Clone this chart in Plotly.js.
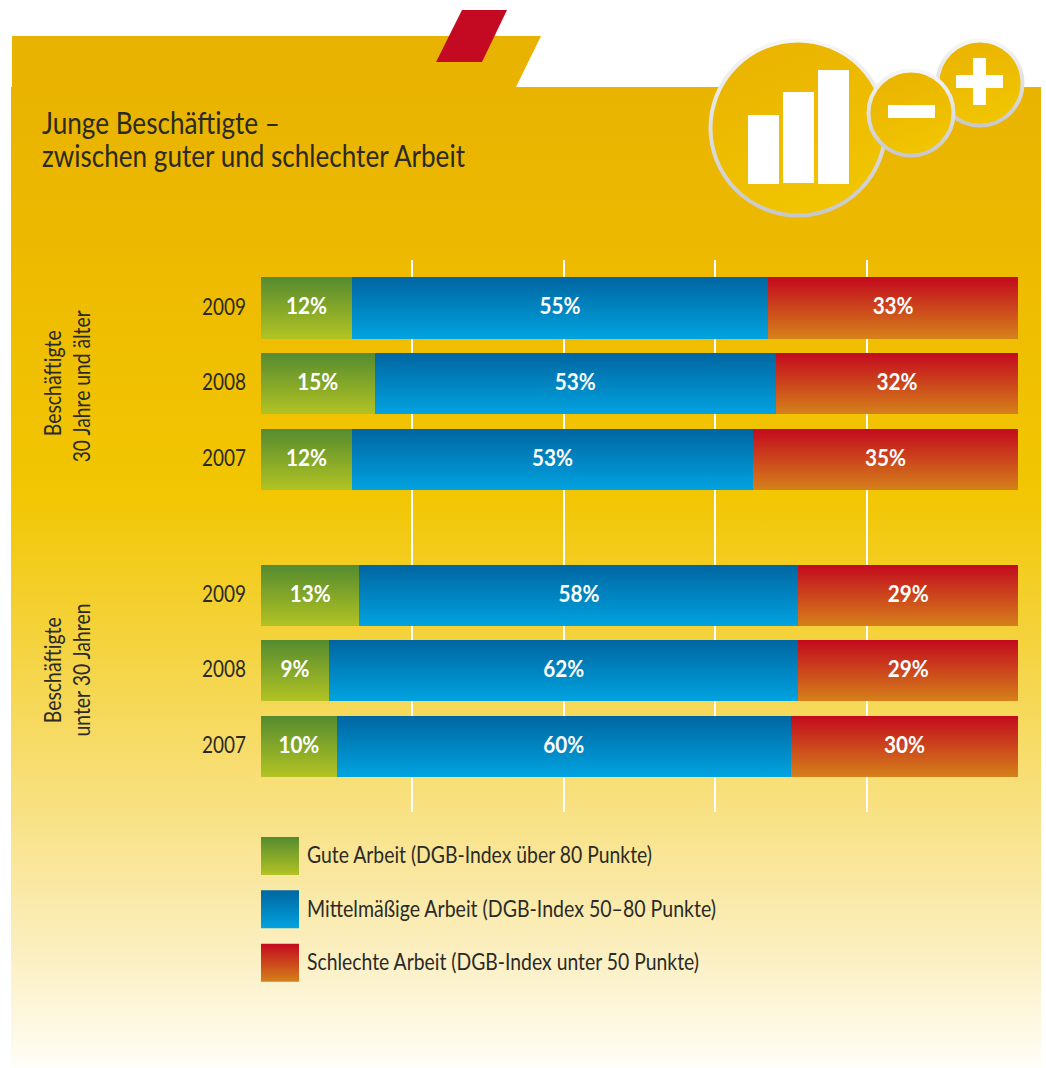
<!DOCTYPE html>
<html lang="de">
<head>
<meta charset="utf-8">
<title>Junge Beschäftigte</title>
<script src="https://cdn.plot.ly/plotly-3.0.1.min.js"></script>
<style>
html,body{margin:0;padding:0;background:#fff;width:1046px;height:1068px;overflow:hidden}
#bg{position:absolute;left:0;top:0}
#chart{position:absolute;left:0;top:0;width:1046px;height:1068px}
</style>
</head>
<body>
<svg id="bg" width="1046" height="1068" viewBox="0 0 1046 1068" xmlns="http://www.w3.org/2000/svg">
<defs>
<linearGradient id="gBg" gradientUnits="userSpaceOnUse" x1="0" y1="36" x2="0" y2="1068">
<stop offset="0" stop-color="#E8B200"/>
<stop offset="0.2" stop-color="#EDB900"/>
<stop offset="0.44" stop-color="#F2C602"/>
<stop offset="0.52" stop-color="#F3CD22"/>
<stop offset="0.74" stop-color="#F8E07E"/>
<stop offset="0.9" stop-color="#FBF0C6"/>
<stop offset="1" stop-color="#FFFEF8"/>
</linearGradient>
<linearGradient id="gCircle" x1="0.3" y1="0" x2="0.7" y2="1">
<stop offset="0" stop-color="#EAB300"/><stop offset="1" stop-color="#F1C600"/>
</linearGradient>
<linearGradient id="gRing" x1="0" y1="0" x2="0" y2="1">
<stop offset="0" stop-color="#F6F6F6"/><stop offset="1" stop-color="#C8C8C8"/>
</linearGradient>
<linearGradient id="fill0" x1="0" y1="0" x2="0" y2="1"><stop offset="0" stop-color="#558B2F"/><stop offset="1" stop-color="#B2C323"/></linearGradient>
<linearGradient id="fill1" x1="0" y1="0" x2="0" y2="1"><stop offset="0" stop-color="#0066A1"/><stop offset="1" stop-color="#00A3E0"/></linearGradient>
<linearGradient id="fill2" x1="0" y1="0" x2="0" y2="1"><stop offset="0" stop-color="#C30A1E"/><stop offset="1" stop-color="#D5811A"/></linearGradient>
</defs>
<path d="M12 36H541L516 87H1041V1068H11V87H12Z" fill="url(#gBg)"/>
<path d="M462 10H507L482 62H436Z" fill="#C30A22"/>
<circle cx="798" cy="128" r="87.5" fill="url(#gCircle)" stroke="url(#gRing)" stroke-width="4"/>
<rect x="748" y="115" width="31" height="69" fill="#fff"/>
<rect x="783" y="92" width="31" height="91" fill="#fff"/>
<rect x="818" y="70" width="31" height="114" fill="#fff"/>
<circle cx="980" cy="83" r="42.5" fill="url(#gCircle)" stroke="url(#gRing)" stroke-width="4"/>
<rect x="956" y="75" width="47" height="13" fill="#fff"/>
<rect x="973" y="58" width="13" height="47" fill="#fff"/>
<circle cx="911" cy="113" r="42.5" fill="url(#gCircle)" stroke="url(#gRing)" stroke-width="4"/>
<rect x="888" y="105" width="47" height="13" fill="#fff"/>
</svg>
<div id="chart"></div>
<script>
var FONT = 'Lato, "Liberation Sans", sans-serif';
var INK = '#2b2a26';

var years = ['2009', '2008', '2007', '2009', '2008', '2007'];
var rows = [0, 1, 2, 3.8, 4.79, 5.79];
var gute = [12, 15, 12, 13, 9, 10];
var mittel = [55, 53, 53, 58, 62, 60];
var schlecht = [33, 32, 35, 29, 29, 30];
var seriesNames = [
  'Gute Arbeit (DGB-Index über 80 Punkte)',
  'Mittelmäßige Arbeit (DGB-Index 50–80 Punkte)',
  'Schlechte Arbeit (DGB-Index unter 50 Punkte)'
];
var groupLabels = ['Beschäftigte', '30 Jahre und älter', 'Beschäftigte', 'unter 30 Jahren'];
var titleText = 'Junge Beschäftigte –<br>zwischen guter und schlechter Arbeit';
var gridTicks = [20, 40, 60, 80];

function barTrace(values, name, color, idx) {
  return {
    type: 'bar', orientation: 'h', name: name, x: values, y: rows,
    width: 0.806, legendgroup: 'g' + idx,
    marker: {color: color, line: {width: 0}},
    text: values.map(function (v) { return v + '%'; }),
    textposition: 'inside', insidetextanchor: 'middle', constraintext: 'none',
    textangle: 0,
    textfont: {family: FONT, size: 22, color: '#ffffff', weight: 700},
    hoverinfo: 'x+y+name'
  };
}

var data = [
  barTrace(gute, seriesNames[0], '#83A729', 0),
  barTrace(mittel, seriesNames[1], '#0085C0', 1),
  barTrace(schlecht, seriesNames[2], '#CC461C', 2)
];

var GROUP_X = [52, 81, 52, 81], GROUP_Y = [384, 386, 671, 670];

var layout = {
  width: 1046, height: 1068,
  margin: {l: 261, r: 28, t: 260, b: 256, pad: 0},
  paper_bgcolor: 'rgba(0,0,0,0)', plot_bgcolor: 'rgba(0,0,0,0)',
  barmode: 'stack', showlegend: true,
  font: {family: FONT, color: INK, size: 23},
  title: {text: titleText, x: 42 / 1046, xanchor: 'left', y: 1 - 134 / 1068,
    font: {family: FONT, size: 30, color: INK}},
  xaxis: {range: [0, 100], showgrid: true, tickvals: gridTicks, gridcolor: '#ffffff', gridwidth: 1.5,
    showticklabels: false, zeroline: false, showline: false, ticks: ''},
  yaxis: {range: [6.658, -0.634], tickvals: rows, ticktext: years, showgrid: false, zeroline: false, showline: false,
    ticks: '', ticklabelstandoff: 14, tickfont: {family: FONT, size: 23, color: INK}},
  legend: {x: 0, xanchor: 'left', y: -22.5 / 552, yanchor: 'top', traceorder: 'grouped', itemwidth: 36,
    tracegroupgap: 20.5, bgcolor: 'rgba(0,0,0,0)', borderwidth: 0, font: {family: FONT, size: 23, color: INK},
    itemclick: false, itemdoubleclick: false},
  annotations: groupLabels.map(function (txt, i) {
    return {text: txt, xref: 'paper', yref: 'paper', x: (GROUP_X[i] - 261) / 757, y: 1 - (GROUP_Y[i] - 260) / 552,
      xanchor: 'center', yanchor: 'middle',
      textangle: -90, showarrow: false, font: {family: FONT, size: 23, color: INK}, align: 'center'};
  })
};

var TITLE_W = [238, 423], LEGEND_W = [345, 409, 392], GROUP_W = [106, 152, 106, 133];

function fit(el, w) {
  el.setAttribute('textLength', w);
  el.setAttribute('lengthAdjust', 'spacingAndGlyphs');
}

Plotly.newPlot('chart', data, layout, {displayModeBar: false}).then(function (gd) {
  gd.querySelectorAll('.trace.bars').forEach(function (t, i) {
    t.querySelectorAll('.point path').forEach(function (p) { p.style.fill = 'url(#fill' + i + ')'; });
    t.querySelectorAll('text').forEach(function (x) {
      fit(x, x.getComputedTextLength() * 0.94);
      x.setAttribute('dy', '-2');
    });
  });
  gd.querySelectorAll('.legend .traces').forEach(function (t, i) {
    var p = t.querySelector('.legendpoints path');
    if (p) {
      p.setAttribute('d', 'M-23,-19H15V19H-23Z');
      p.style.fill = 'url(#fill' + i + ')';
    }
    var x = t.querySelector('text.legendtext');
    if (x) { fit(x, LEGEND_W[i]); x.setAttribute('dy', '-1.5'); }
  });
  gd.querySelectorAll('.ytick text').forEach(function (x) { fit(x, 44); x.setAttribute('dy', '-1.5'); });
  var tl = Array.prototype.slice.call(gd.querySelectorAll('.gtitle tspan.line'));
  tl.forEach(function (l, i) { fit(l, TITLE_W[i]); if (i) l.setAttribute('dy', 33); });
  gd.querySelectorAll('.annotation').forEach(function (a, i) {
    var x = a.querySelector('text');
    if (x) fit(x, GROUP_W[i]);
  });
});
</script>
</body>
</html>
